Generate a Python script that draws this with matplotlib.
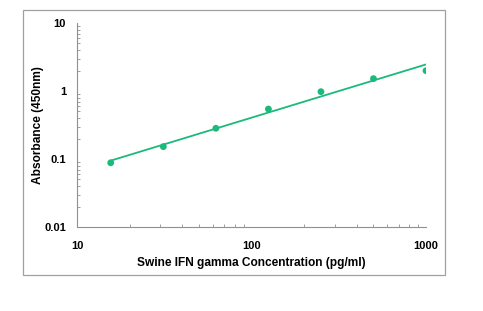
import numpy as np
import matplotlib
matplotlib.use("Agg")
import matplotlib.pyplot as plt
from matplotlib.patches import Rectangle
from matplotlib.ticker import FixedLocator, LogLocator, NullFormatter

conc = [15.6, 31.25, 62.5, 125, 250, 500, 1000]
absorb = [0.088, 0.152, 0.283, 0.543, 0.977, 1.52, 1.99]
x_ticks = [10, 100, 1000]
x_tick_labels = ["10", "100", "1000"]
y_ticks = [0.01, 0.1, 1, 10]
y_tick_labels = ["0.01", "0.1", "1", "10"]

color = "#1bb97c"
W, H = 483, 311
fig = plt.figure(figsize=(W / 100, H / 100), dpi=100)
fig.patch.set_facecolor("white")
fig.patches.append(Rectangle((23 / W, 1 - 275 / H), (445 - 23) / W, (275 - 10) / H,
                             transform=fig.transFigure, fill=False, edgecolor="#a0a0a0", lw=0.9))

ax = fig.add_axes([77 / W, 1 - 227 / H, (426 - 77) / W, (227 - 23) / H])
ax.set_xscale("log")
ax.set_yscale("log")
ax.set_xlim(10, 1000)
ax.set_ylim(0.01, 10)

# power fit line
p = np.polyfit(np.log10(conc), np.log10(absorb), 1)
xf = np.array([conc[0], conc[-1]])
ax.plot(xf, 10 ** np.polyval(p, np.log10(xf)), color=color, lw=1.3, zorder=2)
ax.scatter(conc, absorb, s=24, color=color, zorder=3, edgecolors="none")

for s in ["top", "right"]:
    ax.spines[s].set_visible(False)
for s in ["left", "bottom"]:
    ax.spines[s].set_color("#909090")
    ax.spines[s].set_linewidth(0.8)

ax.xaxis.set_major_locator(FixedLocator(x_ticks))
ax.set_xticklabels(x_tick_labels)
ax.yaxis.set_major_locator(FixedLocator(y_ticks))
ax.set_yticklabels(y_tick_labels)
ax.xaxis.set_minor_locator(LogLocator(base=10, subs=np.arange(2, 10)))
ax.yaxis.set_minor_locator(LogLocator(base=10, subs=np.arange(2, 10)))
ax.xaxis.set_minor_formatter(NullFormatter())
ax.yaxis.set_minor_formatter(NullFormatter())
ax.tick_params(which="both", direction="in", color="#909090", width=0.6)
ax.tick_params(which="major", length=0, labelsize=8)
ax.tick_params(axis="x", which="major", pad=10)
ax.tick_params(axis="y", which="major", pad=8)
ax.tick_params(which="minor", length=2.5)
for lab in ax.get_xticklabels() + ax.get_yticklabels():
    lab.set_fontweight("bold")
    lab.set_family("Liberation Sans")

ax.set_xlabel("Swine IFN gamma Concentration (pg/ml)", fontsize=8.6, fontweight="bold",
              family="Liberation Sans")
ax.set_ylabel("Absorbance (450nm)", fontsize=8.6, fontweight="bold",
              family="Liberation Sans")
ax.yaxis.set_label_coords((38 - 77) / 349, 0.5)
ax.xaxis.set_label_coords(0.5, (227 - 263) / 204)
ax.xaxis.label.set_va("center")
ax.yaxis.label.set_va("center")

fig.savefig("out.png", dpi=100)
